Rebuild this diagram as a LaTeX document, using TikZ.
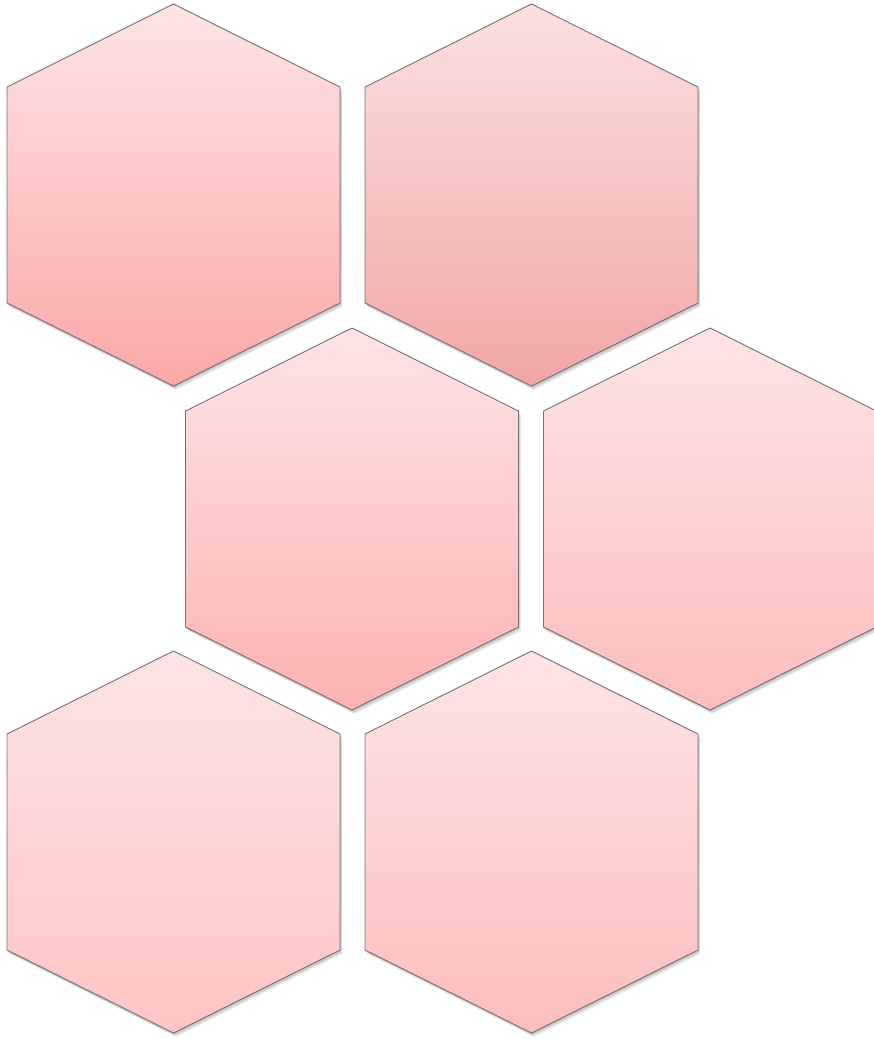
\documentclass[tikz,border=0pt]{standalone}
\definecolor{topA}{HTML}{FDE4E6}
\definecolor{botA}{HTML}{FCA8A8}
\definecolor{topB}{HTML}{FBE0E0}
\definecolor{botB}{HTML}{F2A6A6}
\definecolor{botC}{HTML}{FDB2B2}
\definecolor{botD}{HTML}{FDBDBD}
\definecolor{botE}{HTML}{FEC4C4}
\definecolor{edge}{HTML}{7A7070}
\tikzset{
  hexcell/.style={draw=edge, line width=0.9pt, line join=miter},
  hexshade/.style={fill=black, fill opacity=0.07, draw=none},
}
\newcommand{\hexpath}[2]{(#1,#2) -- (#1+166.5,#2+83) -- (#1+166.5,#2+299) -- (#1,#2+382)
    -- (#1-166.5,#2+299) -- (#1-166.5,#2+83) -- cycle}
% centre x, top y, top colour, bottom colour
\newcommand{\hexat}[4]{%
  \foreach \d in {1,2,3,4}{%
    \path[hexshade, shift={(0.6*\d,1.0*\d)}] \hexpath{#1}{#2};}%
  \path[hexcell, top color=#3, bottom color=#4] \hexpath{#1}{#2};%
}
\begin{document}
\begin{tikzpicture}[x=1pt,y=-1pt]
\useasboundingbox (0,0) rectangle (873,1039);
\hexat{173.5}{4}{topA}{botA}
\hexat{531.5}{4}{topB}{botB}
\hexat{352}{328}{topA}{botC}
\hexat{710}{328}{topA}{botD}
\hexat{173.5}{651}{topA}{botE}
\hexat{531.5}{651}{topA}{botD}
\end{tikzpicture}
\end{document}
